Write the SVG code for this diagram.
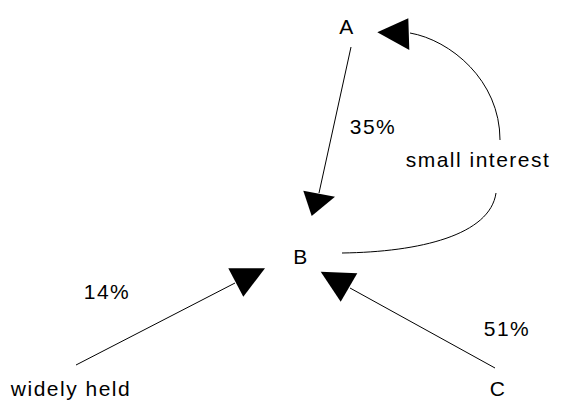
<svg xmlns="http://www.w3.org/2000/svg" width="572" height="401" viewBox="0 0 572 401">
<style>
text{font-family:"Liberation Sans",Arial,sans-serif;font-size:21px;fill:#000;letter-spacing:1.5px}
.e{fill:none;stroke:#000;stroke-width:1}
.h{fill:#000;stroke:none}
</style>
<rect width="572" height="401" fill="#fff"/>
<g id="connectors">
<g id="e-a-b"><line class="e" x1="351" y1="47" x2="319" y2="193"/><polygon class="h" points="303.3,190.7 335,196.7 311.7,216"/><text x="373" y="134" text-anchor="middle">35%</text></g>
<g id="e-b-a"><path class="e" d="M410,33 C450,40 500,80 500,140"/><path class="e" d="M496,193 C490,235 420,252 342,253"/><polygon class="h" points="377.3,32.3 408.3,18.3 409.3,50"/><text x="478" y="167" text-anchor="middle">small interest</text></g>
<g id="e-w-b"><line class="e" x1="76" y1="365" x2="235" y2="283"/><polygon class="h" points="228.3,268.3 265,268.3 243.3,296.7"/><text x="107" y="299" text-anchor="middle">14%</text></g>
<g id="e-c-b"><line class="e" x1="495" y1="368" x2="350" y2="288"/><polygon class="h" points="320.7,271.7 357.3,273.3 340.7,301.7"/><text x="507" y="336" text-anchor="middle">51%</text></g>
</g>
<g id="node-A"><text x="347" y="34" text-anchor="middle">A</text></g>
<g id="node-B"><text x="301" y="264" text-anchor="middle">B</text></g>
<g id="node-C"><text x="498" y="396" text-anchor="middle">C</text></g>
<g id="node-widely-held"><text x="71" y="396" text-anchor="middle">widely held</text></g>
</svg>
